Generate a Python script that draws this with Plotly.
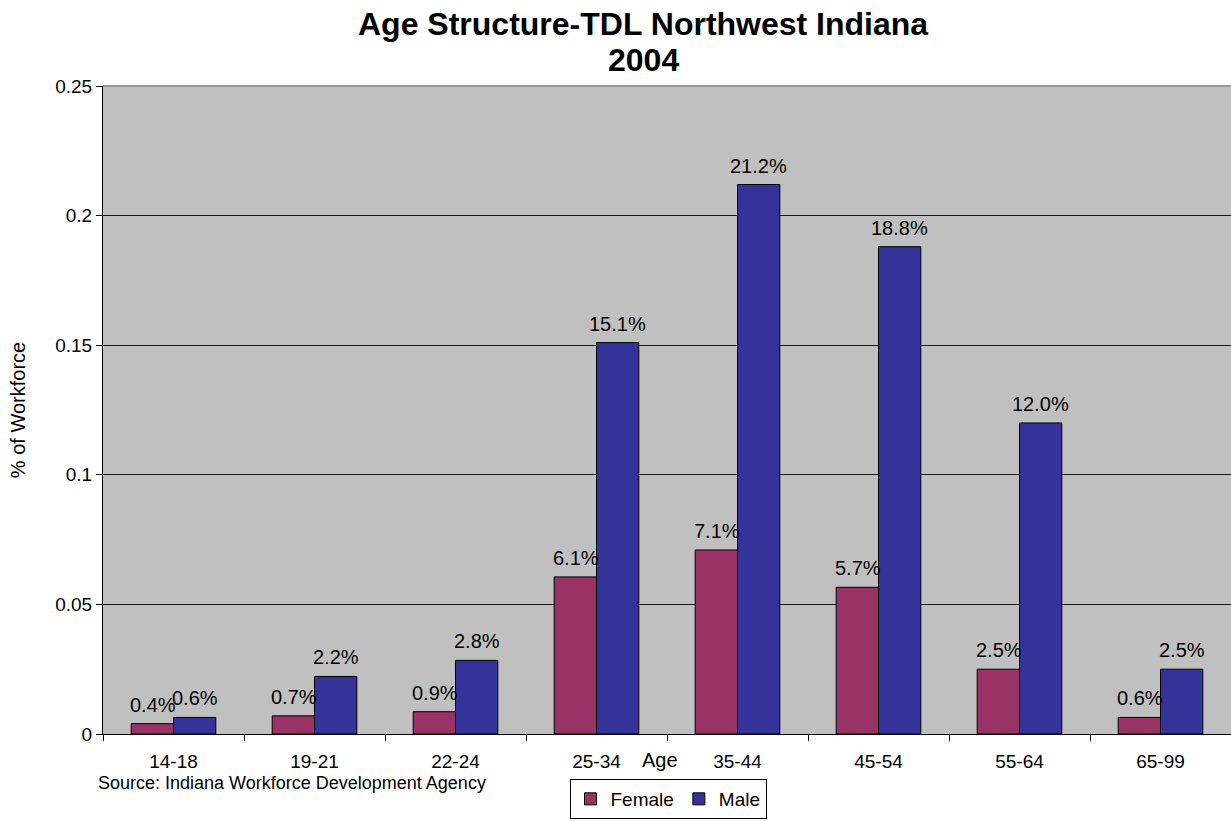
import plotly.graph_objects as go

categories = ["14-18", "19-21", "22-24", "25-34", "35-44", "45-54", "55-64", "65-99"]
female = [0.0040, 0.0070, 0.0086, 0.0606, 0.0710, 0.0566, 0.0250, 0.0064]
male = [0.0064, 0.0222, 0.0284, 0.1510, 0.2120, 0.1880, 0.1200, 0.0250]
y_ticks = [0, 0.05, 0.1, 0.15, 0.2, 0.25]
y_tick_labels = ["0", "0.05", "0.1", "0.15", "0.2", "0.25"]

FONT = "Liberation Sans, Arial, sans-serif"
BAR_OFFSET_PX = 21  # half bar width in px, for label placement

fig = go.Figure()
fig.add_trace(go.Bar(
    name="Female", x=categories, y=female,
    marker=dict(color="#993366", line=dict(color="black", width=1)),
))
fig.add_trace(go.Bar(
    name="Male", x=categories, y=male,
    marker=dict(color="#333399", line=dict(color="black", width=1)),
))

annotations = []
for series, shift in ((female, -BAR_OFFSET_PX), (male, BAR_OFFSET_PX)):
    for cat, val in zip(categories, series):
        annotations.append(dict(
            x=cat, y=val, xref="x", yref="y", text=f"{val:.1%}",
            xshift=shift, yshift=6, xanchor="center", yanchor="bottom",
            showarrow=False, font=dict(family=FONT, size=20, color="black"),
        ))

annotations += [
    dict(text="<b>Age Structure-TDL Northwest Indiana</b>", xref="paper", yref="paper",
         x=(643 - 103) / 1128, y=1 + (86 - 24) / 648, xanchor="center", yanchor="middle",
         showarrow=False, font=dict(family=FONT, size=32)),
    dict(text="<b>2004</b>", xref="paper", yref="paper",
         x=(643 - 103) / 1128, y=1 + (86 - 60) / 648, xanchor="center", yanchor="middle",
         showarrow=False, font=dict(family=FONT, size=32)),
    dict(text="Age", xref="paper", yref="paper",
         x=(660 - 103) / 1128, y=-(760 - 734) / 648, xanchor="center", yanchor="middle",
         showarrow=False, font=dict(family=FONT, size=20)),
    dict(text="Source: Indiana Workforce Development Agency", xref="paper", yref="paper",
         x=-(103 - 96) / 1128, y=-(783 - 734) / 648, xanchor="left", yanchor="middle",
         showarrow=False, font=dict(family=FONT, size=18)),
]

fig.update_layout(
    width=1231, height=821,
    margin=dict(l=103, r=0, t=86, b=87, autoexpand=False),
    paper_bgcolor="white", plot_bgcolor="#C0C0C0",
    font=dict(family=FONT, size=19, color="black"),
    barmode="group", bargap=0.4, bargroupgap=0,
    showlegend=True,
    legend=dict(
        orientation="h", x=(668 - 103) / 1128, y=-(819 - 734) / 648,
        xanchor="center", yanchor="bottom",
        bordercolor="black", borderwidth=1, bgcolor="white",
        font=dict(family=FONT, size=19), itemwidth=30,
        tracegroupgap=0,
    ),
    xaxis=dict(
        type="category", showgrid=False, showline=True, linecolor="black", linewidth=1,
        ticks="outside", tickson="boundaries", ticklen=6, tickcolor="black",
        tickfont=dict(family=FONT, size=19), ticklabelstandoff=10,
    ),
    yaxis=dict(
        range=[0, 0.25], tickvals=y_ticks, ticktext=y_tick_labels,
        showgrid=True, gridcolor="#1a1a1a", gridwidth=1,
        showline=True, linecolor="black", linewidth=1,
        ticks="outside", ticklen=6, tickcolor="black",
        tickfont=dict(family=FONT, size=19),
        title=dict(text="% of Workforce", font=dict(family=FONT, size=20), standoff=24),
        zeroline=False,
    ),
    annotations=annotations,
    shapes=[
        dict(type="line", xref="paper", yref="paper", x0=0, x1=1, y0=1, y1=1,
             line=dict(color="#808080", width=1.5)),
    ],
)

fig.write_html("out.html", config={"displayModeBar": False},
               post_script="document.body.style.margin='0';")
